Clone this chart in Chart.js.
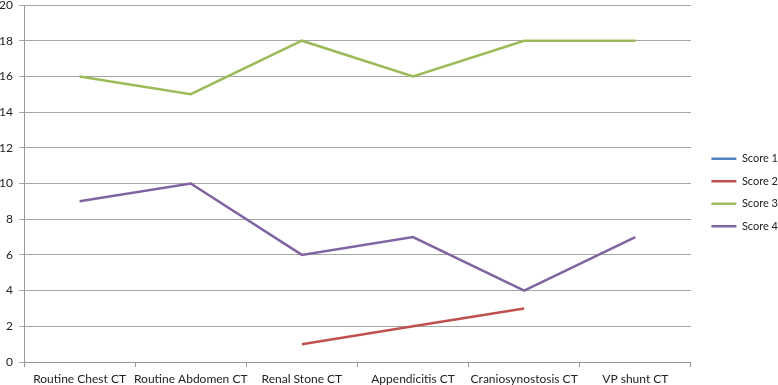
<!DOCTYPE html>
<html>
<head>
<meta charset="utf-8">
<script src="https://cdn.jsdelivr.net/npm/chart.js@4/dist/chart.umd.min.js"></script>
<style>
html,body{margin:0;padding:0;background:#fff;}
#wrap{width:778px;height:385px;position:relative;}
</style>
</head>
<body>
<div id="wrap"><canvas id="c" width="778" height="385"></canvas></div>
<script>
const categories = ["Routine Chest CT","Routine Abdomen CT","Renal Stone CT","Appendicitis CT","Craniosynostosis CT","VP shunt CT"];
const score1 = [null,null,null,null,null,null];
const score2 = [null,null,1,2,3,null];
const score3 = [16,15,18,16,18,18];
const score4 = [9,10,6,7,4,7];
const seriesNames = ["Score 1","Score 2","Score 3","Score 4"];
const seriesColors = ["#4F81BD","#C0504D","#9BBB59","#8064A2"];
const yMin = 0, yMax = 20, yStep = 2;

const font = {family:"Lato, 'Liberation Sans', Arial, sans-serif", size:12};
const legendFont = {family:"Lato, 'Liberation Sans', Arial, sans-serif", size:11};
const values = [score1,score2,score3,score4];
const LEGEND_GAP = 9;
const legendShift = {
  id:'legendShift',
  beforeLayout(chart){
    const lg = chart.legend;
    if(lg && !lg._wrappedFit){
      const f = lg.fit.bind(lg);
      lg.fit = function(){ f(); this.width += LEGEND_GAP; };
      lg._wrappedFit = true;
    }
  },
  afterLayout(chart){
    const lg = chart.legend;
    if(lg){ lg.left += LEGEND_GAP; }
  }
};
new Chart(document.getElementById('c'), {
  type:'line',
  data:{
    labels:categories,
    datasets: values.map((v,i)=>({
      label:seriesNames[i], data:v, borderColor:seriesColors[i], backgroundColor:seriesColors[i],
      borderWidth:2.5, pointRadius:0, pointHoverRadius:0, tension:0, spanGaps:false, fill:false
    }))
  },
  plugins:[legendShift],
  options:{
    responsive:false, animation:false,
    layout:{padding:{left:0,right:-10,top:0,bottom:0}},
    plugins:{
      tooltip:{enabled:false},
      legend:{position:'right', align:'center',
        labels:{usePointStyle:true, pointStyle:'line', pointStyleWidth:25, boxHeight:13, padding:11.5,
          color:'#222', font:legendFont,
          generateLabels(chart){
            return chart.data.datasets.map((d,i)=>({text:d.label, strokeStyle:d.borderColor, fillStyle:d.borderColor, lineWidth:2.5, pointStyle:'line', datasetIndex:i, fontColor:'#222'}));
          }}}
    },
    scales:{
      x:{offset:true,
        afterFit(scale){ scale.height = 23; },
        grid:{display:true, drawOnChartArea:false, drawTicks:true, tickLength:5, offset:true, color:'#999'},
        border:{display:true, color:'#999'},
        ticks:{color:'#222', font:font, padding:5, maxRotation:0, autoSkip:false}},
      y:{min:yMin, max:yMax,
        afterFit(scale){ scale.paddingTop = 5; scale.width = 24; },
        grid:{color:'#a6a6a6', tickLength:5, drawTicks:true},
        border:{display:true, color:'#999'},
        ticks:{stepSize:yStep, color:'#222', font:font, padding:6}}
    }
  }
});
</script>
</body>
</html>
